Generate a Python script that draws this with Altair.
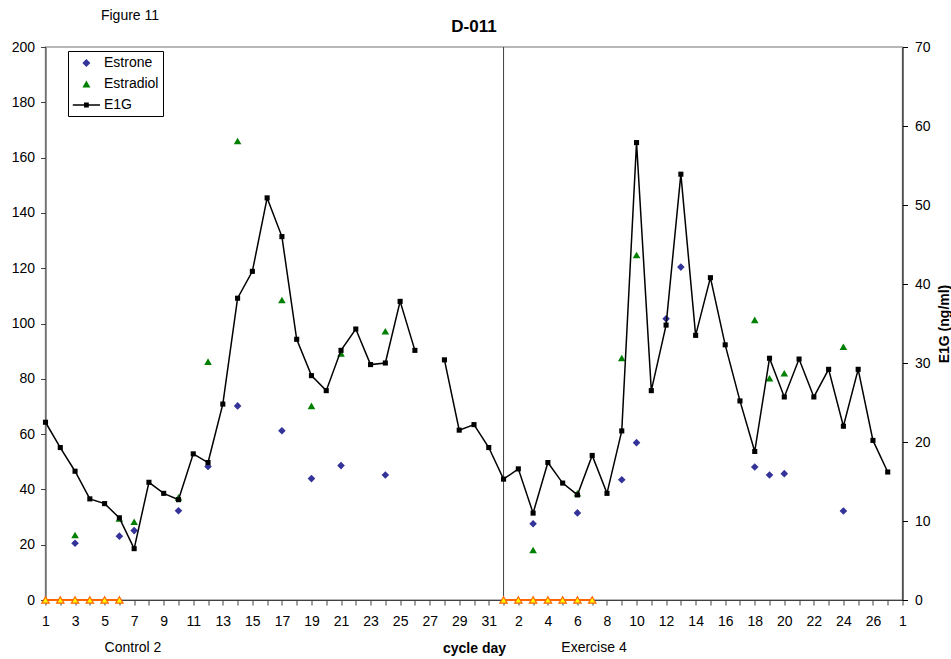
import json
import altair as alt
import pandas as pd

FONT = "Liberation Sans"

# ---------------- data ----------------
# E1G (ng/ml), right axis; Control 2 cycle days 1..31 (day 27 missing)
control_e1g = [22.5, 19.3, 16.3, 12.8, 12.2, 10.4, 6.5, 14.9, 13.5, 12.7,
               18.5, 17.4, 24.8, 38.2, 41.6, 50.9, 46.0, 33.0, 28.4, 26.5,
               31.6, 34.3, 29.8, 30.0, 37.8, 31.6, None, 30.4, 21.5, 22.2, 19.3]
# Exercise 4 cycle days 1..27
exercise_e1g = [15.3, 16.6, 11.0, 17.4, 14.8, 13.3, 18.3, 13.5, 21.4, 57.9,
                26.5, 34.8, 53.9, 33.5, 40.8, 32.3, 25.2, 18.8, 30.6, 25.7,
                30.5, 25.7, 29.2, 22.0, 29.2, 20.2, 16.2]

# Estrone / Estradiol (left axis)
control_estrone_days = [3, 6, 7, 10, 12, 14, 17, 19, 21, 24]
control_estrone = [20.5, 23.1, 25.1, 32.3, 48.3, 70.2, 61.2, 43.9, 48.6, 45.2]
control_estradiol_days = [3, 6, 7, 10, 12, 14, 17, 19, 21, 24]
control_estradiol = [23.5, 29.5, 28.3, 37.1, 86.2, 166.0, 108.5, 70.2, 89.2, 97.2]

exercise_estrone_days = [3, 6, 9, 10, 12, 13, 18, 19, 20, 24]
exercise_estrone = [27.6, 31.5, 43.5, 56.9, 101.7, 120.4, 48.1, 45.2, 45.7, 32.2]
exercise_estradiol_days = [3, 6, 9, 10, 18, 19, 20, 24]
exercise_estradiol = [18.1, 38.6, 87.5, 124.8, 101.3, 80.2, 82.0, 91.6]

# menses markers (plotted at zero)
control_menses_days = [1, 2, 3, 4, 5, 6]
exercise_menses_days = [1, 2, 3, 4, 5, 6, 7]

series_names = ["Estrone", "Estradiol", "E1G"]
series_colors = ["#333399", "#008000", "#000000"]

n_control = len(control_e1g)
n_exercise = len(exercise_e1g)
n_total = n_control + n_exercise


def idx(phase, day):
    return day - 1 if phase == "control" else n_control + day - 1


tick_labels = []
for i in range(n_total + 1):
    if i < n_control:
        d = i + 1
    elif i < n_total:
        d = i - n_control + 1
    else:
        d = 1
    tick_labels.append(str(d) if i % 2 == 0 else "")

# ---------------- tables ----------------
e1g_rows = []
seg = 0
for phase, vals in (("control", control_e1g), ("exercise", exercise_e1g)):
    for k, v in enumerate(vals):
        if v is None:
            seg += 1
            continue
        e1g_rows.append({"x": idx(phase, k + 1), "value": v, "seg": seg})
e1g_df = pd.DataFrame(e1g_rows)

pt_rows = []
for phase, days, vals, name in (
    ("control", control_estrone_days, control_estrone, "Estrone"),
    ("control", control_estradiol_days, control_estradiol, "Estradiol"),
    ("exercise", exercise_estrone_days, exercise_estrone, "Estrone"),
    ("exercise", exercise_estradiol_days, exercise_estradiol, "Estradiol"),
):
    for d, v in zip(days, vals):
        pt_rows.append({"x": idx(phase, d), "value": v, "series": name})
pt_df = pd.DataFrame(pt_rows)

men_rows = [{"x": idx("control", d), "value": 0, "grp": 0} for d in control_menses_days]
men_rows += [{"x": idx("exercise", d), "value": 0, "grp": 1} for d in exercise_menses_days]
men_df = pd.DataFrame(men_rows)

sep_df = pd.DataFrame({"x": [n_control]})

# ---------------- scales / axes ----------------
xscale = alt.Scale(domain=[0, n_total], nice=False, zero=False)
x_axis = alt.Axis(
    values=list(range(n_total + 1)),
    labelExpr=json.dumps(tick_labels) + "[datum.value]",
    labelFlush=False, labelOverlap=False, labelAngle=0,
    tickSize=5, labelPadding=9, labelFontSize=14, labelColor="#000000",
    domainColor="#404040", tickColor="#404040", grid=False,
    title="cycle day", titleFontSize=14, titleFontWeight="bold",
    titlePadding=13, titleColor="#000000",
)
X = alt.X("x:Q", scale=xscale, axis=x_axis)

left_axis = alt.Axis(
    values=list(range(0, 201, 20)), tickSize=5, labelPadding=6,
    labelFontSize=14, labelColor="#000000", domainColor="#404040",
    tickColor="#404040", grid=False, title=None, orient="left",
)
Y_left = alt.Y("value:Q", scale=alt.Scale(domain=[0, 200], nice=False), axis=left_axis)

right_axis = alt.Axis(
    values=list(range(0, 71, 10)), tickSize=5, labelPadding=7,
    labelFontSize=14, labelColor="#000000", domainColor="#000000",
    tickColor="#000000", grid=False, orient="right",
    title="E1G (ng/ml)", titleFontSize=14, titleFontWeight="bold",
    titleAngle=270, titlePadding=21, titleColor="#000000",
)
Y_right = alt.Y("value:Q", scale=alt.Scale(domain=[0, 70], nice=False), axis=right_axis)

# legend symbols (unit box -1..1 scaled to sqrt(size)); shifted right for the legend layout
SYM_SIZE = 256  # unit = 8 px
diamond = "M0.8,-0.5L1.3,0L0.8,0.5L0.3,0Z"
triangle = "M0.8,-0.44L1.3,0.44L0.3,0.44Z"
e1g_sym = ("M-0.9,-0.09L2.5,-0.09L2.5,0.09L-0.9,0.09Z "
           "M0.5,-0.3L1.1,-0.3L1.1,0.3L0.5,0.3Z")
# plot-marker versions (centred), size 100 -> unit = 5 px
PT_SIZE = 100
diamond_c = "M0,-0.76L0.76,0L0,0.76L-0.76,0Z"
triangle_c = "M0,-0.66L0.76,0.66L-0.76,0.66Z"

# ---------------- layers ----------------
sep = alt.Chart(sep_df).mark_rule(color="#404040", strokeWidth=1).encode(x=X)

men_line = alt.Chart(men_df).mark_line(color="#FF6600", strokeWidth=2).encode(
    x=X, y=Y_left, detail="grp:N")
men_pts = alt.Chart(men_df).mark_point(
    shape="triangle-up", filled=True, fill="#FFFF00", stroke="#FF6600",
    strokeWidth=1.2, size=55, opacity=1).encode(x=X, y=Y_left)

# legend-only layer (draws nothing: filtered empty)
legend_layer = alt.Chart(pt_df).mark_point(filled=True, opacity=1, size=SYM_SIZE, strokeWidth=0).encode(
    x=X, y=Y_left,
    color=alt.Color("series:N",
                    scale=alt.Scale(domain=series_names, range=series_colors),
                    legend=alt.Legend(
                        orient="none", legendX=22.5, legendY=4, title=None,
                        strokeColor="#000000", fillColor="#FFFFFF", padding=4,
                        symbolSize=SYM_SIZE, symbolStrokeWidth=0,
                        labelFontSize=14, labelFont=FONT, labelColor="#000000",
                        labelOffset=16, rowPadding=6)),
    shape=alt.Shape("series:N",
                    scale=alt.Scale(domain=series_names, range=[diamond, triangle, e1g_sym])),
).transform_filter("datum.value < 0")

pts = alt.Chart(pt_df).mark_point(filled=True, opacity=1, size=PT_SIZE, strokeWidth=0).encode(
    x=X, y=Y_left,
    fill=alt.Fill("series:N", scale=alt.Scale(domain=series_names, range=series_colors), legend=None),
    strokeDash=alt.value([1, 0]),
    shape=alt.Shape("series:N", scale=alt.Scale(domain=series_names, range=[diamond_c, triangle_c, "square"]), legend=None),
)

e1g_line = alt.Chart(e1g_df).mark_line(color="#000000", strokeWidth=1.5).encode(
    x=X, y=Y_right, detail="seg:N")
e1g_pts = alt.Chart(e1g_df).mark_point(
    shape="square", filled=True, color="#000000", size=26, opacity=1).encode(x=X, y=Y_right)

left_group = alt.layer(sep, men_line, men_pts, legend_layer, pts).resolve_scale(
    shape="independent", color="independent", fill="independent")
right_group = alt.layer(e1g_line, e1g_pts)


def label(text, x, y, size=14, weight="normal"):
    return alt.Chart(pd.DataFrame({"t": [text]})).mark_text(
        fontSize=size, font=FONT, fontWeight=weight, color="#000000",
        align="center", baseline="middle").encode(
        text="t:N", x=alt.value(x), y=alt.value(y))


texts = [
    label("Figure 11", 84.5, -31),
    label("D-011", 428.5, -20, 17, "bold"),
    label("Control 2", 87.5, 601),
    label("Exercise 4", 548.5, 601),
]

chart = alt.layer(left_group, right_group, *texts).resolve_scale(
    y="independent"
).properties(
    width=857, height=553,
    padding={"left": 45.5, "top": 47, "right": 48.5, "bottom": 59},
    autosize=alt.AutoSizeParams(type="none"),
).configure(font=FONT).configure_view(stroke="#A0A0A0", strokeWidth=1.5
).configure_axisX(labelOverlap=False)

chart.save("out.html", embed_options={"renderer": "svg", "actions": False})
